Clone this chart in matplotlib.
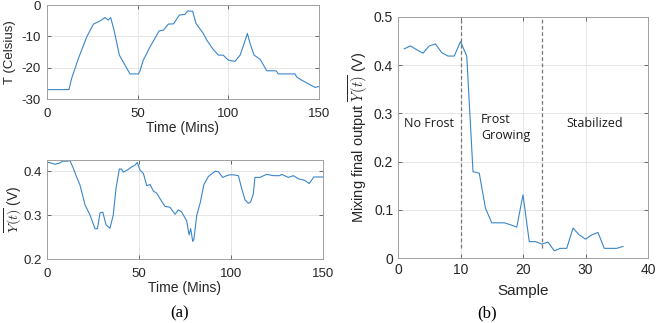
import matplotlib
matplotlib.use("Agg")
import matplotlib.pyplot as plt

plt.rcParams['font.family'] = ['Liberation Sans', 'DejaVu Sans']
plt.rcParams['mathtext.fontset'] = 'cm'
plt.rcParams['axes.unicode_minus'] = False

# ---- data (a) top: temperature ----
t_temp = [0, 12.1, 13.6, 17.3, 21.9, 25.6, 29.2, 32, 33.8, 35.1, 37, 39.9, 45.8, 50.4, 51.3,
          53.1, 56.8, 61.8, 64.3, 66.9, 69.8, 73, 76, 77.6, 80.3, 82.2, 86.2, 88.1, 91.7,
          94.5, 97.2, 100, 103.7, 106.5, 108.7, 110.5, 112, 114.2, 117.5, 121.2, 126.3,
          127.6, 136.8, 137.7, 140.5, 147.8, 150]
temp = [-27, -27, -23.4, -17.1, -10.2, -6.1, -5.1, -4.0, -4.8, -4.0, -8.1, -16, -22, -22, -21,
        -17.6, -13.4, -8.3, -8, -6.1, -6, -3.2, -3, -1.9, -2, -5.9, -9.1, -11.2, -14.2,
        -16, -16, -17.6, -18, -16, -12.3, -9.1, -12.3, -16, -17.3, -21, -21,
        -22, -22, -23, -24, -26.3, -26]

# ---- data (a) bottom: mixing output vs time ----
t_y = [0, 1.3, 4.3, 7.1, 8.5, 10.7, 12.5, 14.3, 16, 17.9, 20.7, 23.4, 26.1, 27.4, 28.8, 30.3,
       32.1, 34.2, 36, 37.5, 39.3, 40.5, 41.5, 43.7, 46, 47.8, 49.1, 50.5, 52.4, 54.2, 56,
       57.8, 59.6, 61.8, 64.1, 66.8, 69.6, 71.4, 73.2, 75.9, 77.2, 78.1, 79.2, 79.8, 81.4,
       83.2, 85.3, 87.7, 91.3, 93.1, 95.5, 97.7, 99.5, 101.3, 104, 105.8, 107.6, 109.4,
       110.7, 112.1, 113, 115.7, 119.4, 123, 126.6, 127.5, 131.2, 133.9, 136.6, 140.2,
       142.5, 145, 150]
y_mix = [0.420, 0.420, 0.416, 0.419, 0.423, 0.423, 0.424, 0.407, 0.388, 0.369, 0.323, 0.300,
         0.269, 0.269, 0.305, 0.307, 0.278, 0.270, 0.300, 0.361, 0.405, 0.405, 0.398, 0.403,
         0.410, 0.414, 0.420, 0.403, 0.395, 0.367, 0.370, 0.355, 0.350, 0.335, 0.320, 0.318,
         0.302, 0.312, 0.307, 0.287, 0.255, 0.269, 0.240, 0.244, 0.300, 0.327, 0.370, 0.388,
         0.400, 0.399, 0.386, 0.390, 0.392, 0.392, 0.390, 0.361, 0.335, 0.327, 0.330, 0.348,
         0.386, 0.386, 0.393, 0.390, 0.390, 0.393, 0.386, 0.390, 0.383, 0.379, 0.372, 0.387,
         0.387]

# ---- data (b): mixing output per sample ----
samples = list(range(1, 37))
y_sample = [0.434, 0.440, 0.432, 0.425, 0.440, 0.444, 0.426, 0.419, 0.419, 0.449, 0.419,
            0.179, 0.176, 0.103, 0.073, 0.073, 0.073, 0.069, 0.064, 0.131, 0.034, 0.034,
            0.029, 0.033, 0.015, 0.020, 0.020, 0.062, 0.048, 0.039, 0.048, 0.053, 0.020,
            0.020, 0.020, 0.024]
boundaries = [10, 23]
regions = ["No Frost", "Frost\nGrowing", "Stabilized"]

blue = '#3b86c8'
spine_c = '#a0a0a0'

W, H = 656, 323
fig = plt.figure(figsize=(W / 100, H / 100), dpi=100)


def style(ax, fs, xpad, ypad):
    ax.grid(True, color='#e6e6e6', linewidth=0.7)
    ax.set_axisbelow(True)
    for s in ax.spines.values():
        s.set_color(spine_c)
        s.set_linewidth(0.7)
    ax.tick_params(direction='in', length=3, width=0.6, color='#555555',
                   labelsize=fs, labelcolor='#262626', top=True, right=True,
                   labeltop=False, labelright=False)
    ax.tick_params(axis='x', pad=xpad)
    ax.tick_params(axis='y', pad=ypad)


ax1 = fig.add_axes([47 / W, 1 - 99 / H, 272 / W, 94 / H])
ax1.plot(t_temp, temp, color=blue, lw=0.8)
ax1.set_xlim(0, 150)
ax1.set_ylim(-30, 0)
ax1.set_xticks([0, 50, 100, 150])
ax1.set_yticks([-30, -20, -10, 0])
style(ax1, 9.5, 6.5, 4.5)
ax1.set_xlabel('Time (Mins)', fontsize=10, color='#262626', labelpad=1)
ax1.set_ylabel('T (Celsius)', fontsize=9.5, color='#262626', labelpad=4)

ax2 = fig.add_axes([47 / W, 1 - 259 / H, 276 / W, 99 / H])
ax2.plot(t_y, y_mix, color=blue, lw=0.8)
ax2.set_xlim(0, 150)
ax2.set_ylim(0.2, 0.4257)
ax2.set_xticks([0, 50, 100, 150])
ax2.set_yticks([0.2, 0.3, 0.4])
style(ax2, 9.5, 6.5, 3.5)
ax2.set_xlabel('Time (Mins)', fontsize=10, color='#262626', labelpad=1)
ax2.set_ylabel(r'$\overline{Y(t)}$ (V)', fontsize=10, color='#262626')
ax2.yaxis.set_label_coords((25 - 47) / 276, 0.5)

ax3 = fig.add_axes([398 / W, 1 - 258 / H, 250 / W, 241 / H])
ax3.plot(samples, y_sample, color=blue, lw=0.8)
for b in boundaries:
    ax3.plot([b, b], [0.02, 0.495], color='#777777', lw=0.9, ls=(0, (3, 2)))
ax3.set_xlim(0, 40)
ax3.set_ylim(0, 0.5)
ax3.set_xticks([0, 10, 20, 30, 40])
ax3.set_yticks([0, 0.1, 0.2, 0.3, 0.4, 0.5])
ax3.set_yticklabels(['0', '0.1', '0.2', '0.3', '0.4', '0.5'])
style(ax3, 10, 3.5, 3.5)
ax3.set_xlabel('Sample', fontsize=11, color='#262626', labelpad=5)
ax3.set_ylabel(r'Mixing final output $\overline{Y(t)}$ (V)', fontsize=10.5,
               color='#262626', labelpad=2)
tfont = dict(family=['Open Sans', 'DejaVu Sans'], fontsize=9, color='#1a1a1a')
ax3.text(0.95, 0.28, regions[0], va='center', ha='left', **tfont)
ax3.text(13.3, 0.27, regions[1], va='center', ha='left', linespacing=1.3, **tfont)
ax3.text(27.0, 0.28, regions[2], va='center', ha='left', **tfont)

sfont = dict(family=['Liberation Serif', 'DejaVu Serif'], fontsize=12, color='black')
fig.text(180 / W, 1 - 313 / H, '(a)', ha='center', va='center', **sfont)
fig.text(487 / W, 1 - 313 / H, '(b)', ha='center', va='center', **sfont)

fig.savefig('out.png', dpi=100)
